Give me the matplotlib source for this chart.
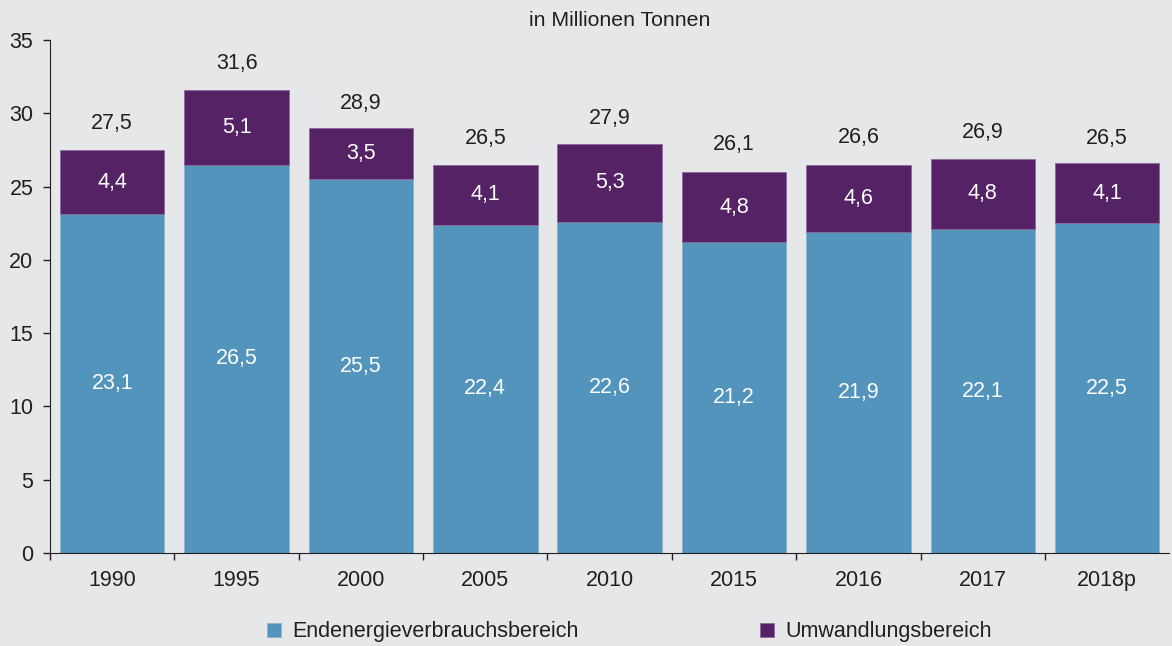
import matplotlib.pyplot as plt
import numpy as np

plt.rcParams['font.family'] = ['Liberation Sans', 'DejaVu Sans']

jahre = ["1990", "1995", "2000", "2005", "2010", "2015", "2016", "2017", "2018p"]
endenergie = [23.1, 26.5, 25.5, 22.4, 22.6, 21.2, 21.9, 22.1, 22.5]
umwandlung = [4.4, 5.1, 3.5, 4.1, 5.3, 4.8, 4.6, 4.8, 4.1]
gesamt = [27.5, 31.6, 28.9, 26.5, 27.9, 26.1, 26.6, 26.9, 26.5]

bg = "#e6e7e9"
blau = "#5294bc"
lila = "#562266"
txt = "#231f20"
fs = 15.5

fig = plt.figure(figsize=(11.72, 6.46), dpi=100, facecolor=bg)
ax = fig.add_axes([0.0427, 0.144, 0.955, 0.794], facecolor=bg)

x = np.arange(len(jahre))
w = 0.84
ax.bar(x, endenergie, w, color=blau, edgecolor="#8ab4d0", linewidth=0.6,
       label="Endenergieverbrauchsbereich")
ax.bar(x, umwandlung, w, bottom=endenergie, color=lila, edgecolor="#8a6a98",
       linewidth=0.6, label="Umwandlungsbereich")

for i in range(len(jahre)):
    ax.text(x[i], endenergie[i] / 2, f"{endenergie[i]:.1f}".replace(".", ","),
            ha="center", va="center", color="white", fontsize=fs)
    ax.text(x[i], endenergie[i] + umwandlung[i] / 2,
            f"{umwandlung[i]:.1f}".replace(".", ","),
            ha="center", va="center", color="white", fontsize=fs)
    ax.annotate(f"{gesamt[i]:.1f}".replace(".", ","), (x[i], gesamt[i]),
                xytext=(0, 26), textcoords="offset pixels",
                ha="center", va="center", color=txt, fontsize=fs)

ax.set_xlim(-0.5, len(jahre) - 0.5)
ax.set_ylim(0, 35)
ax.set_yticks(range(0, 36, 5))
ax.tick_params(axis="y", labelsize=fs, colors=txt, length=5, width=1, pad=7)
ax.set_xticks(x)
ax.set_xticklabels(jahre, fontsize=fs, color=txt)
ax.set_xticks(np.arange(-0.5, len(jahre) - 0.5, 1), minor=True)
ax.tick_params(axis="x", which="major", length=0, pad=12)
ax.tick_params(axis="x", which="minor", length=5, width=1, color=txt)

for s in ["top", "right"]:
    ax.spines[s].set_visible(False)
ax.spines["left"].set_color(txt)
ax.spines["bottom"].set_color(txt)

fig.text(0.529, 0.968, "in Millionen Tonnen", ha="center", va="center",
         fontsize=15.3, color=txt)

fig.legend(loc="center", bbox_to_anchor=(0.537, 0.022), ncol=2, frameon=False,
           fontsize=fs, handlelength=0.65, handleheight=0.65, columnspacing=8.45,
           handletextpad=0.5, labelcolor=txt)

fig.savefig("out.png", dpi=100, facecolor=bg)
